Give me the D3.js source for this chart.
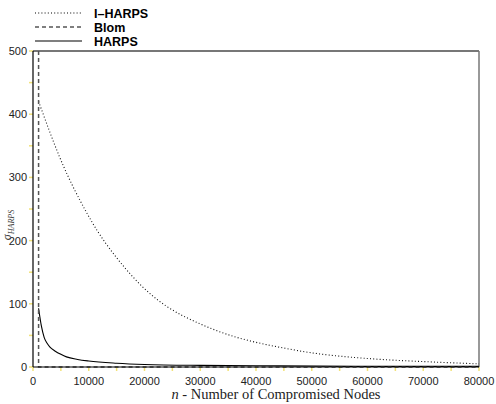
<!DOCTYPE html>
<html><head><meta charset="utf-8">
<script src="https://cdn.jsdelivr.net/npm/d3@7"></script>
<style>body{margin:0;background:#fff}svg{display:block}</style>
</head><body>
<svg id="c" width="496" height="404"></svg>
<script>
const iharpsN = [1000,2000,3000,4000,5000,6500,8500,10000,12000,15000,18000,21000,24000,27000,30000,33000,36000,39000,42000,45000,48000,51000,55000,59000,64000,69000,74000,80000];
const iharpsV = [420,396,372,349,327,297,262,238,208,172,141,115,95,80,68,57,48,41,35,30,25,21,17,14,11,9,7,5];
const harpsN = [1000,1500,2000,2500,3000,4000,5000,6000,8000,10000,15000,20000,30000,40000,60000,80000];
const harpsV = [93,65,47,38,32,25,20,16,12,9.5,6,4,2.5,2,1,1];
const blomN = [1000,1000,80000];
const blomV = [500,0,0];
const seriesNames = ["I\u2013HARPS","Blom","HARPS"];
const xTicks = [0,10000,20000,30000,40000,50000,60000,70000,80000];
const yTicks = [0,100,200,300,400,500];

const svg = d3.select("#c");
const L=33,R=479,T=51,B=367;
const x = d3.scaleLinear().domain([0,80000]).range([L,R]);
const y = d3.scaleLinear().domain([0,500]).range([B,T]);
const tickCol = "#f2e27a";

const xMinor = d3.range(0,80001,5000);
const yMinor = d3.range(0,501,50);
svg.append("g").selectAll("line").data(xMinor).join("line")
  .attr("x1",d=>x(d)).attr("x2",d=>x(d)).attr("y1",B).attr("y2",B+4)
  .attr("stroke",tickCol).attr("stroke-width",1.5);
svg.append("g").selectAll("line").data(yMinor).join("line")
  .attr("x1",L-4).attr("x2",L).attr("y1",d=>y(d)).attr("y2",d=>y(d))
  .attr("stroke",tickCol).attr("stroke-width",1.5);

svg.append("g").selectAll("text").data(xTicks).join("text")
  .attr("x",d=>x(d)).attr("y",B+18).attr("text-anchor","middle")
  .attr("font-family","Liberation Sans, Arial, sans-serif").attr("font-size",11).attr("fill","#222")
  .text(d=>d);
svg.append("g").selectAll("text").data(yTicks).join("text")
  .attr("x",L-6).attr("y",d=>y(d)+4).attr("text-anchor","end")
  .attr("font-family","Liberation Sans, Arial, sans-serif").attr("font-size",11).attr("fill","#222")
  .text(d=>d);

svg.append("line").attr("x1",L).attr("x2",R).attr("y1",T).attr("y2",T).attr("stroke","#777").attr("stroke-width",2);
svg.append("line").attr("x1",R).attr("x2",R).attr("y1",T).attr("y2",B).attr("stroke","#777").attr("stroke-width",1.5);

svg.append("clipPath").attr("id","pc").append("rect").attr("x",L).attr("y",T).attr("width",R-L).attr("height",B-T+1);
const g = svg.append("g").attr("clip-path","url(#pc)");
const line = d3.line().x(d=>x(d[0])).y(d=>y(d[1]));
const smooth = d3.line().curve(d3.curveBasis).x(d=>x(d[0])).y(d=>y(d[1]));

g.append("path").datum(iharpsN.map((n,i)=>[n,iharpsV[i]])).attr("d",smooth)
  .attr("fill","none").attr("stroke","#111").attr("stroke-width",1.1).attr("stroke-dasharray","1,2.2");
g.append("path").datum(harpsN.map((n,i)=>[n,harpsV[i]])).attr("d",d3.line().curve(d3.curveMonotoneX).x(d=>x(d[0])).y(d=>y(d[1])))
  .attr("fill","none").attr("stroke","#000").attr("stroke-width",1.1);
g.append("path").datum(blomN.map((n,i)=>[n,blomV[i]])).attr("d",line)
  .attr("fill","none").attr("stroke","#555").attr("stroke-width",1.5).attr("stroke-dasharray","4,3");

svg.append("line").attr("x1",L).attr("x2",L).attr("y1",T).attr("y2",B).attr("stroke","#000").attr("stroke-width",1.2);
svg.append("line").attr("x1",L).attr("x2",R).attr("y1",B).attr("y2",B).attr("stroke","#000").attr("stroke-width",1.2);

const dashes = ["1,2.2","4,3",null];
const lg = svg.append("g");
seriesNames.forEach((s,i)=>{
  const yy = 13 + i*14;
  const ln = lg.append("line").attr("x1",35).attr("x2",82).attr("y1",yy).attr("y2",yy)
    .attr("stroke","#000").attr("stroke-width",1.1);
  if(dashes[i]) ln.attr("stroke-dasharray",dashes[i]);
  lg.append("text").attr("x",94).attr("y",yy+4.5).attr("font-family","Liberation Sans, Arial, sans-serif")
    .attr("font-weight","bold").attr("font-size",12.5).attr("fill","#000").text(s);
});

const xt = svg.append("text").attr("x",(L+R)/2+20).attr("y",399).attr("text-anchor","middle")
  .attr("font-family","Liberation Serif, Times New Roman, serif").attr("font-size",14.5).attr("fill","#222");
xt.append("tspan").attr("font-style","italic").text("n");
xt.append("tspan").text(" - Number of Compromised Nodes");

const yt = svg.append("text").attr("transform","translate(11,225) rotate(-90)").attr("text-anchor","middle")
  .attr("font-family","Liberation Serif, Times New Roman, serif").attr("font-size",12).attr("fill","#444");
yt.append("tspan").attr("font-style","italic").text("\u03C3");
yt.append("tspan").attr("font-style","italic").attr("font-size",8).attr("dy",3).text("HARPS");
</script>
</body></html>
